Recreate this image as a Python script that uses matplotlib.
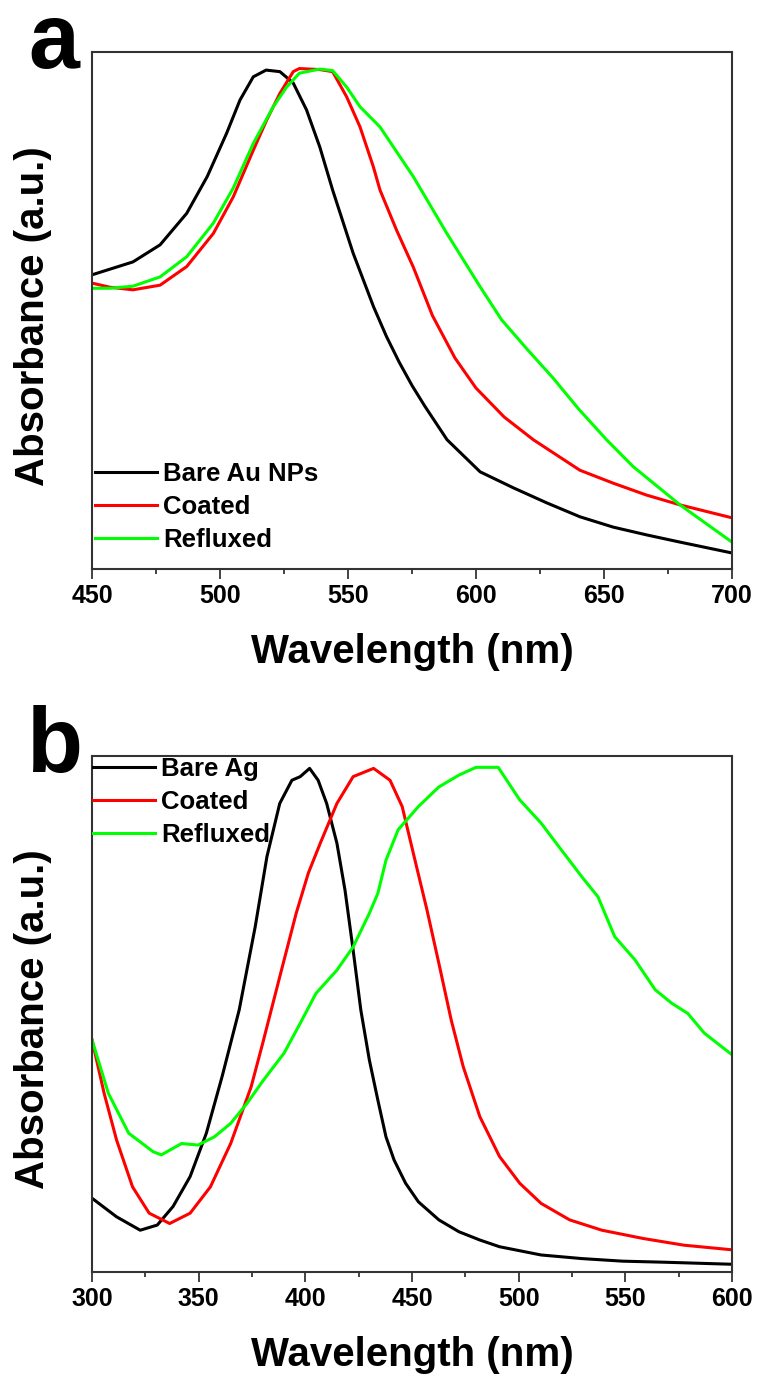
import matplotlib
matplotlib.use("Agg")
import matplotlib.pyplot as plt
from matplotlib.ticker import MultipleLocator

plt.rcParams['font.family'] = ['Liberation Sans', 'DejaVu Sans']
plt.rcParams['font.weight'] = 'bold'

# ---------------- Panel a data (Au) ----------------
au_bare_x = [450, 466, 476.6, 487, 495, 502.6, 507.8, 513, 518, 523.4, 528.6, 533.8, 539, 544, 552,
             560, 565, 570, 575, 580, 588.7, 601.6, 614.6, 627.6, 640.6, 653.6, 666.6, 679.7, 700]
au_bare_y = [0.569, 0.594, 0.627, 0.688, 0.759, 0.843, 0.907, 0.952, 0.965, 0.962, 0.94, 0.888, 0.816, 0.733, 0.611,
             0.507, 0.45, 0.40, 0.355, 0.315, 0.25, 0.188, 0.157, 0.128, 0.101, 0.081, 0.066, 0.052, 0.031]

au_coat_x = [450, 457, 466, 476.6, 487, 497.4, 505.2, 513, 518.2, 523.4, 528.6, 531, 539, 544, 549.5, 554.7,
             559.9, 562.5, 569, 575.5, 583, 591.8, 600, 611, 622.4, 640.6, 653.6, 666.6, 679.7, 700]
au_coat_y = [0.553, 0.545, 0.540, 0.549, 0.585, 0.649, 0.72, 0.81, 0.868, 0.92, 0.962, 0.968, 0.966, 0.962, 0.913, 0.855,
             0.778, 0.733, 0.655, 0.584, 0.49, 0.408, 0.35, 0.294, 0.25, 0.191, 0.166, 0.143, 0.124, 0.099]

au_refl_x = [450, 457, 466, 476.6, 487, 497.4, 505.2, 513, 520.8, 526, 531, 539, 544, 549.5, 554.7, 562.5,
             575.5, 588.5, 601.6, 610, 620, 630, 640, 651, 661.4, 679.7, 700]
au_refl_y = [0.543, 0.543, 0.547, 0.565, 0.604, 0.669, 0.737, 0.823, 0.894, 0.932, 0.959, 0.967, 0.964, 0.932, 0.894, 0.855,
             0.759, 0.65, 0.546, 0.482, 0.425, 0.37, 0.31, 0.25, 0.198, 0.124, 0.052]

# ---------------- Panel b data (Ag) ----------------
ag_bare_x = [300, 311.5, 322.6, 330.6, 338, 346, 353.6, 361, 369, 376.5, 382, 388, 393.7, 397.6, 402, 406, 410,
             414.8, 418.6, 422.4, 426, 430, 434, 437.8, 441.6, 447, 453, 462.6, 472, 481.8, 491, 510.5, 529.6,
             548.7, 567.9, 600]
ag_bare_y = [0.143, 0.107, 0.081, 0.091, 0.127, 0.185, 0.269, 0.379, 0.508, 0.669, 0.805, 0.908, 0.953, 0.96, 0.976,
             0.953, 0.908, 0.831, 0.74, 0.624, 0.508, 0.411, 0.333, 0.262, 0.217, 0.172, 0.136, 0.101, 0.078, 0.062,
             0.049, 0.033, 0.026, 0.021, 0.019, 0.015]

ag_coat_x = [300, 305.7, 311.5, 319, 326.8, 336.4, 346, 355.5, 365, 374.6, 380, 388, 395.7, 401.4, 407, 414.8,
             422.4, 432, 439.7, 445.4, 451, 457, 462.6, 468.4, 474, 481.8, 491, 500.5, 510.5, 523.9, 539, 558.3,
             577.4, 600]
ag_coat_y = [0.45, 0.346, 0.256, 0.165, 0.114, 0.094, 0.114, 0.165, 0.249, 0.359, 0.443, 0.572, 0.695, 0.773, 0.831,
             0.908, 0.96, 0.976, 0.953, 0.902, 0.805, 0.702, 0.598, 0.488, 0.398, 0.301, 0.224, 0.172, 0.133, 0.101,
             0.081, 0.065, 0.052, 0.043]

ag_refl_x = [300, 307.7, 317.2, 328.7, 332.5, 342, 349.7, 357.4, 365, 372.7, 380.4, 390, 397.6, 405, 414.8, 422.4,
             430, 434, 437.8, 443.5, 453, 462.6, 472, 480, 490.4, 500.5, 510.5, 520, 529.6, 537.2, 545, 554.5,
             564, 571.7, 579.3, 587, 600]
ag_refl_y = [0.45, 0.346, 0.269, 0.233, 0.227, 0.249, 0.246, 0.262, 0.288, 0.327, 0.372, 0.424, 0.482, 0.54, 0.585,
             0.63, 0.695, 0.734, 0.798, 0.857, 0.902, 0.94, 0.963, 0.978, 0.978, 0.915, 0.87, 0.818, 0.766, 0.727,
             0.65, 0.605, 0.547, 0.521, 0.501, 0.463, 0.421]

labels_a = ["Bare Au NPs", "Coated", "Refluxed"]
labels_b = ["Bare Ag", "Coated", "Refluxed"]
colors = ["#000000", "#ff0000", "#00ff00"]
xticks_a = [450, 500, 550, 600, 650, 700]
xticks_b = [300, 350, 400, 450, 500, 550, 600]

W, H = 757, 1378
fig = plt.figure(figsize=(W / 100, H / 100), dpi=100)

def make_axes(top_px, bottom_px):
    return fig.add_axes([92 / W, 1 - bottom_px / H, 640 / W, (bottom_px - top_px) / H])

ax_a = make_axes(52, 569)
ax_b = make_axes(756, 1272)

def style(ax, xlim, xticks, minor):
    ax.set_xlim(*xlim)
    ax.set_ylim(0, 1)
    ax.set_xticks(xticks)
    ax.xaxis.set_minor_locator(MultipleLocator(minor))
    ax.set_yticks([])
    for s in ax.spines.values():
        s.set_color('#333333')
        s.set_linewidth(1.5)
    ax.tick_params(axis='x', which='major', direction='out', length=7, width=1.2,
                   labelsize=18, pad=4, colors='#222222', labelcolor='black')
    ax.tick_params(axis='x', which='minor', direction='out', length=3.6, width=1.2, colors='#222222')
    ax.tick_params(top=False, right=False, left=False)
    for lab in ax.get_xticklabels():
        lab.set_fontweight('bold')
    ax.text(-0.092, 0.49, "Absorbance (a.u.)", transform=ax.transAxes, rotation=90,
            ha='center', va='center', fontsize=29, fontweight='bold')
    ax.text(0.5, -0.182, "Wavelength (nm)", transform=ax.transAxes,
            ha='center', va='baseline', fontsize=29, fontweight='bold')

legend_kw = dict(loc='upper left', frameon=False, handlelength=2.4, handletextpad=0.25,
                 labelspacing=0.35, borderpad=0, borderaxespad=0,
                 prop={'weight': 'bold', 'size': 18.5})

# Panel a
for xs, ys, lab, c in zip([au_bare_x, au_coat_x, au_refl_x], [au_bare_y, au_coat_y, au_refl_y], labels_a, colors):
    ax_a.plot(xs, ys, color=c, lw=2.2, label=lab)
style(ax_a, (450, 700), xticks_a, 25)
ax_a.legend(bbox_to_anchor=(0.005, 0.2065), **legend_kw)

# Panel b
for xs, ys, lab, c in zip([ag_bare_x, ag_coat_x, ag_refl_x], [ag_bare_y, ag_coat_y, ag_refl_y], labels_b, colors):
    ax_b.plot(xs, ys, color=c, lw=2.2, label=lab)
style(ax_b, (300, 600), xticks_b, 25)
ax_b.legend(bbox_to_anchor=(0.002, 0.998), **legend_kw)

fig.text(28 / W, 1 - 68 / H, "a", fontsize=66, fontweight='bold', ha='left', va='baseline')
fig.text(27 / W, 1 - 772 / H, "b", fontsize=66, fontweight='bold', ha='left', va='baseline')

fig.savefig("out.png", dpi=100)
